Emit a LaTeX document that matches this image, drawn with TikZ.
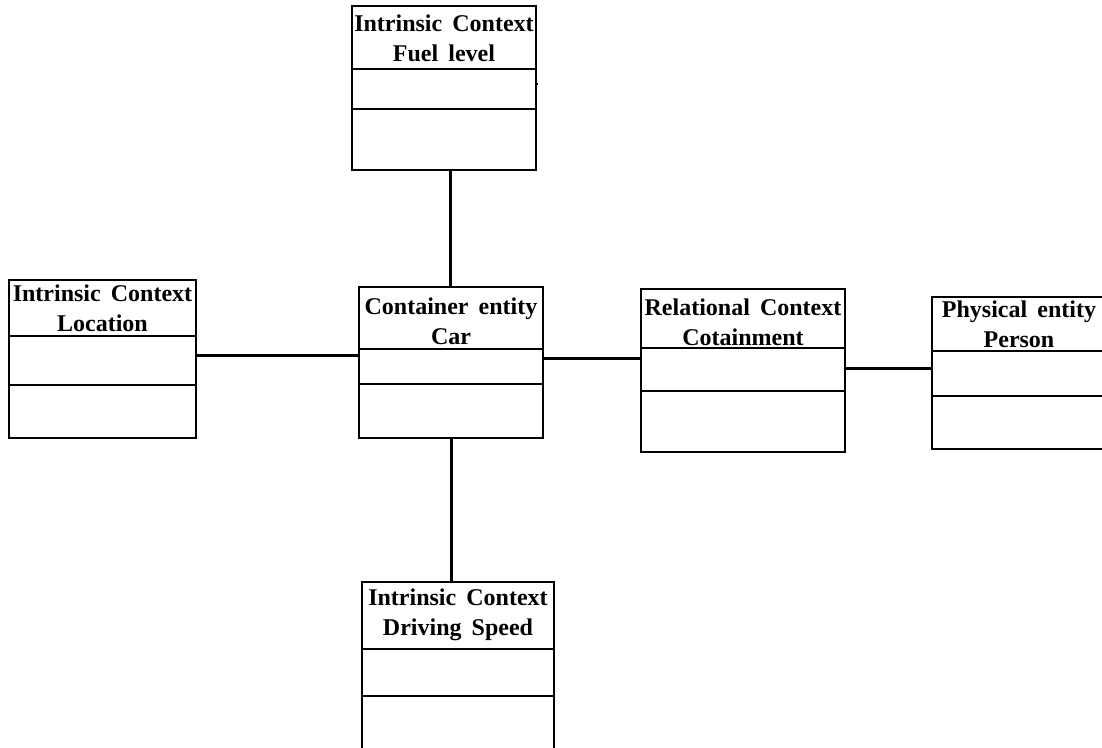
\documentclass[tikz,border=0pt]{standalone}
\usepackage{fontspec}
\setmainfont{Liberation Serif}
\newcommand\headfont{\fontsize{24bp}{30bp}\selectfont\bfseries\spaceskip=0.42em plus 0.1em\relax}
\begin{document}
\begin{tikzpicture}[x=1bp, y=-1bp,
  box/.style={draw, line width=1.3bp, rectangle, anchor=north west, inner sep=0pt, outer sep=0pt},
  divider/.style={line width=1.1bp},
  title/.style={font=\headfont, align=center, anchor=base, inner sep=0pt},
  link/.style={line width=3bp}]
\useasboundingbox[fill=white] (0,0) rectangle (1102,748);
% class box: name, left, top, right, bottom, first divider, second divider,
% baseline of the heading's second line, heading
\newcommand\classbox[9]{%
  \node[box, minimum width={(#4-#2)*1bp}, minimum height={(#5-#3)*1bp}] (#1) at (#2,#3) {};
  \draw[divider] (#1.west |- 0,#6) -- (#1.east |- 0,#6);
  \draw[divider] (#1.west |- 0,#7) -- (#1.east |- 0,#7);
  \node[title] (#1-title) at ({(#2+#4)/2}, #8) {#9};
}
\classbox{fuel}{352}{6}{536}{170}{69}{109}{62}{Intrinsic Context\\Fuel level}
\classbox{location}{9}{280}{196}{438}{336}{385}{331}{Intrinsic Context\\Location}
\classbox{car}{359}{287}{543}{438}{349}{384}{344}{Container entity\\Car}
\classbox{containment}{641}{289}{845}{452}{348}{391}{345}{Relational Context\\Cotainment}
\classbox{person}{932}{297}{1106}{449}{351}{396}{347}{Physical entity\\Person}
\classbox{speed}{362}{582}{554}{756}{649}{696}{635}{Intrinsic Context\\Driving Speed}
% associations
\draw[link] (car.north -| 450,0) -- (fuel.south -| 450,0);
\draw[link] (car.south -| 451,0) -- (speed.north -| 451,0);
\draw[link] (location.east |- 0,355) -- (car.west |- 0,355);
\draw[link] (car.east |- 0,358) -- (containment.west |- 0,358);
\draw[link] (containment.east |- 0,368) -- (person.west |- 0,368);
% small tick beside the fuel box
\draw[line width=1.5bp] (fuel.east |- 0,84) -- ++(2,0);
\end{tikzpicture}
\end{document}
